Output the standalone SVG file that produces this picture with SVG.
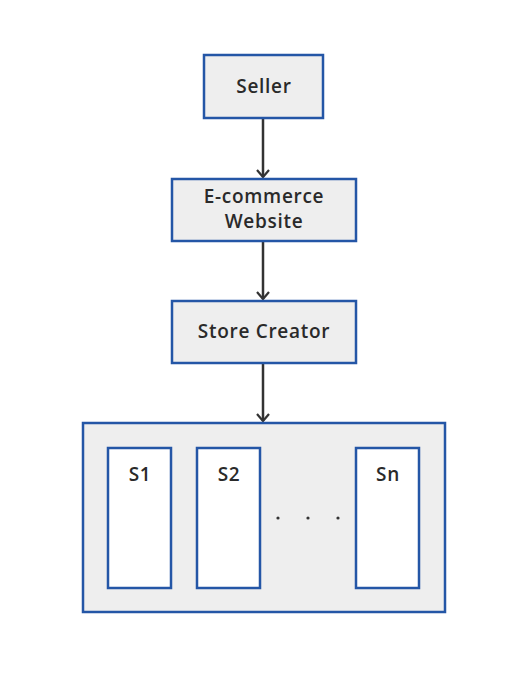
<svg xmlns="http://www.w3.org/2000/svg" width="524" height="675" viewBox="0 0 524 675">
<defs>
<style>
.box{fill:#eeeeee;stroke:#2456a6;stroke-width:2.5}
.slot{fill:#ffffff;stroke:#2456a6;stroke-width:2.5}
.lbl{font-family:"Open Sans","DejaVu Sans",sans-serif;font-size:19px;font-weight:600;fill:#2a2a2a;text-anchor:middle;letter-spacing:0.7px}
.conn{stroke:#333333;stroke-width:2.5;fill:none}
.dot{fill:#333333}
</style>
<marker id="arr" markerWidth="12" markerHeight="14" refX="9" refY="7" orient="auto" markerUnits="userSpaceOnUse" viewBox="0 0 12 14">
<path d="M2,1 L9,7 L2,13" fill="none" stroke="#333333" stroke-width="2.2"/>
</marker>
</defs>
<rect width="524" height="675" fill="#ffffff"/>
<g id="connectors">
<line class="conn" x1="263" y1="119" x2="263" y2="177" marker-end="url(#arr)"/>
<line class="conn" x1="263" y1="242" x2="263" y2="299" marker-end="url(#arr)"/>
<line class="conn" x1="263" y1="364" x2="263" y2="421" marker-end="url(#arr)"/>
</g>
<g id="seller">
<rect class="box" x="204" y="55" width="119" height="63"/>
<text class="lbl" x="264" y="93">Seller</text>
</g>
<g id="ecommerce">
<rect class="box" x="172" y="179" width="184" height="62"/>
<text class="lbl" x="264" y="203">E-commerce</text>
<text class="lbl" x="264" y="228">Website</text>
</g>
<g id="store-creator">
<rect class="box" x="172" y="301" width="184" height="62"/>
<text class="lbl" x="264" y="338">Store Creator</text>
</g>
<g id="stores">
<rect class="box" x="83" y="423" width="362" height="189"/>
</g>
<g id="s1">
<rect class="slot" x="108" y="448" width="63" height="140"/>
<text class="lbl" x="140" y="481">S1</text>
</g>
<g id="s2">
<rect class="slot" x="197" y="448" width="63" height="140"/>
<text class="lbl" x="229" y="481">S2</text>
</g>
<g id="sn">
<rect class="slot" x="356" y="448" width="63" height="140"/>
<text class="lbl" x="388" y="481">Sn</text>
</g>
<g id="ellipsis">
<circle class="dot" cx="278" cy="518" r="1.6"/>
<circle class="dot" cx="308" cy="518" r="1.6"/>
<circle class="dot" cx="338" cy="518" r="1.6"/>
</g>
</svg>
